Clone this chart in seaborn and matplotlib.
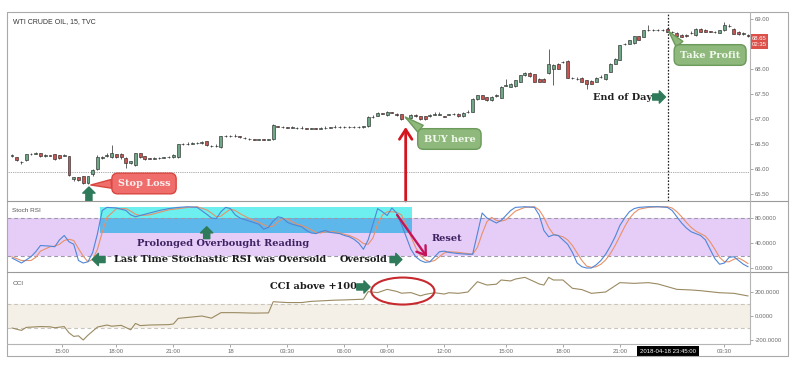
import matplotlib
matplotlib.use("Agg")
import matplotlib.pyplot as plt
import matplotlib.transforms as mtransforms
from matplotlib.patches import Rectangle, Ellipse
from matplotlib.lines import Line2D
import numpy as np
import pandas as pd
import seaborn as sns

# ---------------- data (15 min WTI bars) ----------------
opens = [
    66.27, 66.24, 66.15, 66.18, 66.30, 66.31, 66.32, 66.27, 66.28, 66.30, 66.28, 66.27, 66.26,
    65.80, 65.84, 65.86, 65.72, 65.90, 66.00, 66.23, 66.27, 66.24, 66.30, 66.30, 66.22, 66.12,
    66.08, 66.32, 66.26, 66.22, 66.21, 66.22, 66.23, 66.24, 66.24, 66.24, 66.50, 66.50, 66.51,
    66.53, 66.52, 66.56, 66.47, 66.46, 66.44, 66.66, 66.67, 66.66, 66.66, 66.63, 66.61, 66.60,
    66.59, 66.60, 66.59, 66.60, 66.86, 66.85, 66.84, 66.83, 66.83, 66.82, 66.82, 66.81, 66.82,
    66.81, 66.82, 66.83, 66.84, 66.85, 66.84, 66.85, 66.84, 66.85, 66.84, 66.86, 67.04, 67.07,
    67.12, 67.08, 67.14, 67.10, 67.10, 67.02, 67.03, 67.08, 67.06, 67.06, 67.07, 67.09, 67.09,
    67.06, 67.09, 67.10, 67.11, 67.06, 67.14, 67.15, 67.40, 67.48, 67.44, 67.38, 67.47, 67.43,
    67.67, 67.65, 67.66, 67.75, 67.88, 67.93, 67.90, 67.81, 67.81, 67.92, 68.01, 68.11, 68.14,
    68.17, 67.83, 67.81, 67.83, 67.78, 67.77, 67.75, 67.84, 67.80, 67.95, 68.11, 68.19, 68.50,
    68.51, 68.52, 68.66, 68.65, 68.78, 68.79, 68.78, 68.79, 68.81, 68.75, 68.73, 68.69, 68.69,
    68.72, 68.68, 68.81, 68.79, 68.76, 68.75, 68.73, 68.78, 68.86, 68.81, 68.75, 68.71, 68.69,
]
closes = [
    66.29, 66.18, 66.14, 66.30, 66.31, 66.32, 66.26, 66.28, 66.27, 66.20, 66.22, 66.29, 65.88,
    65.84, 65.78, 65.72, 65.86, 65.98, 66.24, 66.25, 66.28, 66.32, 66.24, 66.24, 66.12, 66.16,
    66.32, 66.24, 66.20, 66.21, 66.22, 66.23, 66.24, 66.25, 66.28, 66.50, 66.51, 66.51, 66.53,
    66.52, 66.54, 66.48, 66.46, 66.47, 66.66, 66.67, 66.66, 66.67, 66.64, 66.62, 66.60, 66.59,
    66.60, 66.59, 66.60, 66.88, 66.85, 66.84, 66.83, 66.84, 66.82, 66.83, 66.81, 66.82, 66.81,
    66.82, 66.83, 66.84, 66.85, 66.84, 66.85, 66.84, 66.85, 66.84, 66.86, 67.04, 67.05, 67.13,
    67.11, 67.15, 67.13, 67.09, 67.00, 67.03, 67.09, 67.07, 67.00, 67.00, 67.08, 67.10, 67.10,
    67.05, 67.10, 67.11, 67.06, 67.13, 67.15, 67.41, 67.48, 67.41, 67.38, 67.45, 67.48, 67.65,
    67.68, 67.71, 67.78, 67.88, 67.93, 67.86, 67.75, 67.75, 67.75, 68.11, 68.08, 68.01, 68.15,
    67.83, 67.82, 67.80, 67.75, 67.71, 67.71, 67.83, 67.85, 67.90, 68.11, 68.21, 68.48, 68.51,
    68.58, 68.66, 68.59, 68.78, 68.79, 68.78, 68.79, 68.78, 68.75, 68.74, 68.66, 68.65, 68.66,
    68.73, 68.81, 68.75, 68.75, 68.75, 68.74, 68.78, 68.88, 68.87, 68.71, 68.70, 68.72, 68.66,
]
highs = [
    66.31, 66.25, 66.17, 66.31, 66.32, 66.34, 66.33, 66.31, 66.29, 66.31, 66.29, 66.31, 66.27,
    65.85, 65.85, 65.87, 65.87, 66.00, 66.28, 66.27, 66.33, 66.48, 66.31, 66.33, 66.24, 66.17,
    66.33, 66.33, 66.27, 66.23, 66.24, 66.24, 66.25, 66.27, 66.30, 66.51, 66.52, 66.55, 66.55,
    66.54, 66.56, 66.57, 66.48, 66.50, 66.67, 66.68, 66.68, 66.71, 66.67, 66.64, 66.62, 66.61,
    66.61, 66.61, 66.61, 66.91, 66.87, 66.86, 66.85, 66.86, 66.84, 66.86, 66.83, 66.83, 66.83,
    66.84, 66.86, 66.85, 66.88, 66.86, 66.86, 66.87, 66.86, 66.86, 66.87, 67.06, 67.09, 67.14,
    67.13, 67.16, 67.15, 67.12, 67.11, 67.05, 67.10, 67.11, 67.07, 67.07, 67.11, 67.14, 67.14,
    67.07, 67.11, 67.12, 67.12, 67.14, 67.19, 67.42, 67.49, 67.49, 67.45, 67.46, 67.51, 67.66,
    67.81, 67.72, 67.79, 67.89, 67.94, 67.94, 67.91, 67.82, 67.82, 68.41, 68.10, 68.12, 68.17,
    68.18, 67.84, 67.84, 67.84, 67.79, 67.78, 67.84, 67.89, 67.91, 68.12, 68.22, 68.49, 68.53,
    68.59, 68.67, 68.67, 68.79, 68.89, 68.80, 68.80, 68.80, 68.82, 68.76, 68.74, 68.70, 68.70,
    68.76, 68.82, 68.82, 68.80, 68.77, 68.76, 68.79, 68.95, 68.90, 68.82, 68.76, 68.75, 68.70,
]
lows = [
    66.25, 66.17, 66.11, 66.17, 66.29, 66.30, 66.25, 66.25, 66.26, 66.19, 66.21, 66.26, 65.86,
    65.77, 65.76, 65.70, 65.70, 65.86, 65.98, 66.21, 66.24, 66.22, 66.22, 66.20, 66.02, 66.10,
    66.07, 66.23, 66.19, 66.20, 66.20, 66.21, 66.22, 66.23, 66.23, 66.23, 66.49, 66.48, 66.50,
    66.51, 66.51, 66.47, 66.45, 66.44, 66.43, 66.65, 66.65, 66.65, 66.63, 66.61, 66.59, 66.58,
    66.58, 66.58, 66.58, 66.59, 66.84, 66.83, 66.82, 66.82, 66.81, 66.81, 66.80, 66.80, 66.80,
    66.80, 66.81, 66.82, 66.83, 66.83, 66.83, 66.83, 66.83, 66.83, 66.83, 66.85, 67.02, 67.06,
    67.10, 67.07, 67.12, 67.07, 66.99, 67.00, 67.02, 67.05, 66.99, 66.99, 67.05, 67.08, 67.08,
    67.04, 67.08, 67.09, 67.05, 67.05, 67.12, 67.14, 67.39, 67.40, 67.37, 67.37, 67.45, 67.42,
    67.66, 67.64, 67.65, 67.74, 67.87, 67.85, 67.74, 67.74, 67.74, 67.91, 67.68, 68.00, 68.12,
    67.82, 67.81, 67.78, 67.74, 67.61, 67.70, 67.74, 67.82, 67.79, 67.94, 68.10, 68.18, 68.48,
    68.50, 68.51, 68.58, 68.64, 68.76, 68.77, 68.77, 68.77, 68.74, 68.73, 68.65, 68.64, 68.65,
    68.71, 68.67, 68.74, 68.74, 68.74, 68.73, 68.72, 68.77, 68.84, 68.70, 68.69, 68.69, 68.65,
]

stoch_idx = [
    0, 2, 4, 5, 6, 8, 9, 10, 11, 12, 13, 14, 15, 16, 17, 18, 19, 20, 22, 24, 25, 26, 27, 29, 31,
    33, 35, 37, 39, 41, 42, 43, 44, 45, 46, 47, 48, 50, 52, 53, 54, 55, 56, 57, 58, 59, 60, 61,
    62, 63, 64, 65, 66, 67, 68, 69, 70, 71, 72, 73, 74, 75, 76, 77, 78, 79, 80, 81, 82, 83, 84,
    85, 86, 87, 88, 89, 90, 91, 92, 94, 96, 97, 98, 99, 100, 101, 102, 103, 104, 105, 106, 108,
    110, 111, 112, 113, 114, 115, 116, 117, 118, 119, 120, 121, 122, 123, 124, 125, 126, 127,
    128, 129, 130, 131, 132, 134, 136, 138, 139, 140, 141, 142, 143, 144, 145, 146, 147, 148,
    149, 150, 151, 152, 153, 154, 155,
]
stoch_k = [
    16, 8, 18, 26, 36, 35, 34, 45, 52, 42, 38, 12, 8, 10, 25, 55, 92, 97, 96, 92, 85, 82, 84, 88,
    92, 95, 97, 98, 97, 86, 80, 79, 90, 97, 95, 85, 80, 75, 70, 62, 65, 75, 82, 80, 73, 70, 68,
    66, 60, 56, 55, 58, 60, 57, 56, 55, 52, 50, 46, 40, 30, 45, 70, 95, 90, 84, 96, 88, 70, 50,
    30, 18, 12, 9, 10, 18, 26, 27, 25, 23, 22, 22, 55, 88, 80, 76, 72, 76, 84, 92, 97, 98, 97,
    85, 60, 50, 53, 52, 45, 38, 25, 8, 2, 0, 0, 5, 12, 22, 35, 50, 68, 80, 90, 95, 97, 98, 98,
    97, 92, 82, 72, 64, 58, 55, 52, 45, 30, 15, 6, 8, 17, 18, 12, 6, 2,
]
stoch_d = [
    18, 12, 12, 17, 27, 34, 35, 38, 44, 46, 44, 31, 19, 10, 14, 30, 57, 81, 95, 95, 91, 86, 84,
    85, 89, 93, 95, 97, 98, 93, 88, 82, 83, 89, 94, 92, 87, 79, 73, 69, 66, 67, 74, 79, 78, 74,
    70, 68, 65, 61, 57, 56, 58, 58, 58, 56, 54, 52, 49, 45, 39, 38, 48, 70, 85, 90, 90, 89, 85,
    69, 50, 33, 20, 13, 10, 12, 18, 24, 26, 25, 23, 22, 33, 55, 74, 81, 76, 75, 77, 84, 91, 97,
    98, 93, 81, 65, 54, 52, 50, 45, 36, 24, 12, 3, 1, 2, 6, 13, 23, 36, 51, 66, 79, 88, 94, 97,
    98, 98, 96, 90, 82, 73, 65, 59, 55, 51, 42, 30, 17, 10, 10, 14, 16, 12, 7,
]

cci_idx = [
    0, 2, 3, 6, 8, 9, 11, 12, 13, 14, 15, 16, 18, 20, 21, 23, 25, 26, 27, 29, 33, 34, 35, 38, 40,
    42, 44, 47, 51, 54, 55, 58, 61, 63, 68, 70, 74, 75, 77, 79, 81, 82, 84, 86, 87, 89, 91, 92,
    94, 96, 98, 100, 102, 103, 105, 106, 108, 110, 111, 112, 113, 114, 116, 118, 120, 122, 125,
    128, 131, 134, 136, 140, 143, 145, 149, 152, 155,
]
cci_val = [
    -100, -120, -95, -88, -90, -98, -88, -140, -170, -165, -200, -160, -92, -75, -85, -78, -115,
    -62, -80, -75, -72, -66, -20, -8, 0, -18, 28, 28, 24, 26, 119, 112, 112, 122, 132, 134, 140,
    203, 195, 222, 205, 190, 195, 168, 180, 194, 183, 194, 189, 200, 286, 258, 265, 300, 292,
    308, 322, 286, 267, 258, 322, 300, 300, 231, 220, 189, 200, 278, 272, 278, 267, 222, 217,
    211, 194, 189, 167,
]

time_ticks = [10.5, 22, 34, 46, 58, 70, 79, 91, 104, 116, 128, 150]
time_labels = ["15:00", "18:00", "21:00", "18", "03:30", "06:00", "09:00",
               "12:00", "15:00", "18:00", "21:00", "03:30"]
# 68.50 sits under the last-price tag, so the reference does not show it
price_ticks = [65.5, 66.0, 66.5, 67.0, 67.5, 68.0, 69.0]
stoch_ticks = [0, 40, 80]
cci_ticks = [-200, 0, 200]

# ---------------- style ----------------
sns.set_style("white")
plt.rcParams["font.family"] = ["DejaVu Sans"]

UP = "#6fa886"
DOWN = "#c95450"
EDGE = "#2e2e2e"
ARROW_GREEN = "#2f7a5a"
AXIS_TXT = "#6a6a6a"
FRAME = "#a9a9a9"
NOTE_FONT = "DejaVu Serif"

W, H = 799, 369
fig = plt.figure(figsize=(W / 100, H / 100), dpi=100)
fig.patch.set_facecolor("white")


def fx(px):
    return px / W


def fy(py):
    return 1 - py / H


def panel(top, bottom):
    ax = fig.add_axes([fx(7), fy(bottom), fx(750) - fx(7), fy(top) - fy(bottom)])
    ax.set_facecolor("none")
    for s in ax.spines.values():
        s.set_visible(False)
    ax.set_xlim(-1.05, 155.4)
    ax.yaxis.tick_right()
    ax.tick_params(axis="y", which="both", right=True, length=2, width=0.6,
                   color="#999999", labelsize=4.3, labelcolor=AXIS_TXT, pad=1.5)
    ax.set_xticks([])
    return ax


ax_p = panel(12, 201)
ax_s = panel(201, 272)
ax_c = panel(272, 344)

# ---------------- price panel ----------------
ax_p.set_ylim(65.36, 69.14)
bars = pd.DataFrame({"o": opens, "c": closes, "h": highs, "l": lows})
bars["i"] = np.arange(len(bars))
colors = [UP if c >= o else DOWN for o, c in zip(bars["o"], bars["c"])]
ax_p.vlines(bars["i"], bars["l"], bars["h"], color="#3a3a3a", lw=0.55, zorder=2)
body = (bars["c"] - bars["o"]).where((bars["c"] - bars["o"]).abs() > 0.004, 0.004)
ax_p.bar(bars["i"], body, bottom=bars["o"], width=0.62, color=colors,
         edgecolor=EDGE, linewidth=0.45, zorder=3)
ax_p.axhline(65.94, color="#8a8a8a", lw=0.6, ls=(0, (1, 1.2)), zorder=1)
ax_p.axvline(138.1, color="#1e1e1e", lw=0.9, ls=(0, (1.3, 1.3)), zorder=4)
ax_p.set_yticks(price_ticks)
ax_p.set_yticklabels([f"{v:.2f}" for v in price_ticks], family="Liberation Sans")

ax_p.text(0.008, 0.948, "WTI CRUDE OIL, 15, TVC", transform=ax_p.transAxes,
          fontsize=5, color="#333333", family="Liberation Sans", va="center")

# last price tag (price + countdown stacked in one red box)
trans_py = mtransforms.blended_transform_factory(ax_p.transAxes, ax_p.transData)
ax_p.text(1.002, 68.55, "68.65\n02:35", transform=trans_py, fontsize=4.3, color="white",
          family="Liberation Sans", va="center", ha="left", zorder=12, linespacing=1.45,
          bbox=dict(boxstyle="square,pad=0.3", fc="#dc5049", ec="none"))


def callout(ax, text, xy, xytext, fc, ec, tc, relpos):
    ax.annotate(text, xy=xy, xytext=xytext, ha="center", va="center",
                fontsize=7, fontweight="bold", family=NOTE_FONT, color=tc,
                bbox=dict(boxstyle="round,pad=0.6,rounding_size=0.6", fc=fc, ec=ec, lw=1.0),
                arrowprops=dict(arrowstyle="wedge,tail_width=0.9,shrink_factor=0.5",
                                fc=fc, ec=ec, lw=1.0, relpos=relpos,
                                shrinkA=0, shrinkB=0),
                annotation_clip=False, zorder=10)


def block_arrow(ax, start, end):
    ax.annotate("", xy=end, xytext=start,
                arrowprops=dict(arrowstyle="simple,head_length=0.55,head_width=1.1,tail_width=0.55",
                                fc=ARROW_GREEN, ec=ARROW_GREEN, shrinkA=0, shrinkB=0,
                                mutation_scale=8),
                annotation_clip=False, zorder=9)


callout(ax_p, "Stop Loss", xy=(16.6, 65.68), xytext=(27.8, 65.71),
        fc="#ef6e6c", ec="#d9463f", tc="#fdeeee", relpos=(0.0, 0.5))
callout(ax_p, "BUY here", xy=(82.8, 67.04), xytext=(92.1, 66.60),
        fc="#8fb87c", ec="#6c9a5b", tc="#f1f8ec", relpos=(0.12, 0.85))
callout(ax_p, "Take Profit", xy=(138.3, 68.75), xytext=(147.0, 68.28),
        fc="#8fb87c", ec="#6c9a5b", tc="#f1f8ec", relpos=(0.1, 0.85))

block_arrow(ax_p, (16.2, 65.36), (16.2, 65.64))
ax_p.text(134.7, 67.44, "End of Day", ha="right", va="center", fontsize=7,
          fontweight="bold", family=NOTE_FONT, color="#222222")
block_arrow(ax_p, (134.9, 67.44), (137.6, 67.44))

ax_p.annotate("", xy=(82.9, 66.84), xytext=(82.9, 65.36),
              arrowprops=dict(arrowstyle="->,head_width=0.45,head_length=0.7",
                              color="#d4161c", lw=2.0, mutation_scale=10,
                              shrinkA=0, shrinkB=0),
              annotation_clip=False, zorder=9)

# ---------------- stochastic RSI panel ----------------
ax_s.set_ylim(-6.4, 107.2)
ax_s.axhspan(20, 80, color="#e5cdf8", lw=0, zorder=0)
ax_s.add_patch(Rectangle((18.5, 80), 84.2 - 18.5, 97.6 - 80, fc="#6cefee", ec="none", zorder=1))
ax_s.add_patch(Rectangle((18.5, 56), 84.2 - 18.5, 80 - 56, fc="#5db7eb", ec="none", zorder=1))
for lvl in (20, 80):
    ax_s.axhline(lvl, color="#9f97ab", lw=0.8, ls=(0, (3.5, 2.5)), zorder=2)
sns.lineplot(x=stoch_idx, y=stoch_d, ax=ax_s, color="#e8916a", lw=0.8,
             estimator=None, sort=False, zorder=3)
sns.lineplot(x=stoch_idx, y=stoch_k, ax=ax_s, color="#4f86d6", lw=0.8,
             estimator=None, sort=False, zorder=4)
ax_s.set_xlim(-1.05, 155.4)
ax_s.set_xticks([])
ax_s.set_xlabel("")
ax_s.set_ylabel("")
ax_s.set_yticks(stoch_ticks)
ax_s.set_yticklabels([f"{v:.4f}" for v in stoch_ticks], family="Liberation Sans")
ax_s.text(0.007, 0.86, "Stoch RSI", transform=ax_s.transAxes, fontsize=4.6,
          color="#555555", family="Liberation Sans", va="center")

ax_s.text(44.4, 39.5, "Prolonged Overbought Reading", ha="center", va="center",
          fontsize=7, fontweight="bold", family=NOTE_FONT, color="#3e2161", zorder=6)
block_arrow(ax_s, (41.0, 47.0), (41.0, 66.0))
ax_s.text(43.8, 12.8, "Last Time Stochastic RSI was Oversold", ha="center", va="center",
          fontsize=7, fontweight="bold", family=NOTE_FONT, color="#1c1c1c", zorder=6)
block_arrow(ax_s, (19.6, 13.6), (16.9, 13.6))
ax_s.text(74.1, 12.8, "Oversold", ha="center", va="center", fontsize=7,
          fontweight="bold", family=NOTE_FONT, color="#1c1c1c", zorder=6)
block_arrow(ax_s, (79.6, 13.6), (82.1, 13.6))
ax_s.text(91.6, 47.5, "Reset", ha="center", va="center", fontsize=7,
          fontweight="bold", family=NOTE_FONT, color="#3e2161", zorder=6)
ax_s.annotate("", xy=(87.4, 17.6), xytext=(81.1, 84.8),
              arrowprops=dict(arrowstyle="->,head_width=0.4,head_length=0.6",
                              color="#c4135a", lw=1.7, mutation_scale=10,
                              shrinkA=0, shrinkB=0),
              annotation_clip=False, zorder=7)

# ---------------- CCI panel ----------------
ax_c.set_ylim(-233.3, 366.7)
ax_c.axhspan(-100, 100, color="#f5f0e7", lw=0, zorder=0)
for lvl in (-100, 100):
    ax_c.axhline(lvl, color="#c9c5bd", lw=0.8, ls=(0, (3.5, 2.5)), zorder=1)
sns.lineplot(x=cci_idx, y=cci_val, ax=ax_c, color="#9a8a62", lw=0.8,
             estimator=None, sort=False, zorder=3)
ax_c.set_xlim(-1.05, 155.4)
ax_c.set_xlabel("")
ax_c.set_ylabel("")
ax_c.set_yticks(cci_ticks)
ax_c.set_yticklabels([f"{v:.4f}" for v in cci_ticks], family="Liberation Sans")
ax_c.set_xticks(time_ticks)
ax_c.set_xticklabels(time_labels, family="Liberation Sans")
ax_c.tick_params(axis="x", bottom=True, length=2, width=0.6, color="#999999",
                 labelsize=4.3, labelcolor=AXIS_TXT, pad=1.5)
ax_c.text(0.007, 0.84, "CCI", transform=ax_c.transAxes, fontsize=4.6,
          color="#555555", family="Liberation Sans", va="center")

trans_cx = mtransforms.blended_transform_factory(ax_c.transData, ax_c.transAxes)
ax_c.text(138.1, -0.1, "2018-04-18 23:45:00", transform=trans_cx, ha="center",
          va="center", fontsize=4.3, color="white", family="Liberation Sans", zorder=12,
          bbox=dict(boxstyle="square,pad=0.45", fc="black", ec="none"))

ax_c.text(63.4, 250, "CCI above +100", ha="center", va="center", fontsize=7,
          fontweight="bold", family=NOTE_FONT, color="#1c1c1c", zorder=6)
block_arrow(ax_c, (72.6, 242), (75.4, 242))
ax_c.add_patch(Ellipse((82.3, 208), 13.3, 225, fill=False, ec="#c62a2f", lw=1.5, zorder=6))

# ---------------- frame lines ----------------
def hline(y, x0, x1, color=FRAME, lw=0.8):
    fig.add_artist(Line2D([fx(x0), fx(x1)], [fy(y), fy(y)], color=color, lw=lw))


def vline(x, y0, y1, color=FRAME, lw=0.8):
    fig.add_artist(Line2D([fx(x), fx(x)], [fy(y0), fy(y1)], color=color, lw=lw))


hline(12, 7, 788)
hline(356, 7, 788)
vline(7, 12, 356)
vline(788, 12, 356)
hline(201, 7, 788, color="#9a9a9a")
hline(272, 7, 788, color="#9a9a9a")
hline(344, 7, 750, color="#b5b5b5")
vline(750, 12, 344, color="#b5b5b5")

fig.savefig("out.png", dpi=100, facecolor="white")
